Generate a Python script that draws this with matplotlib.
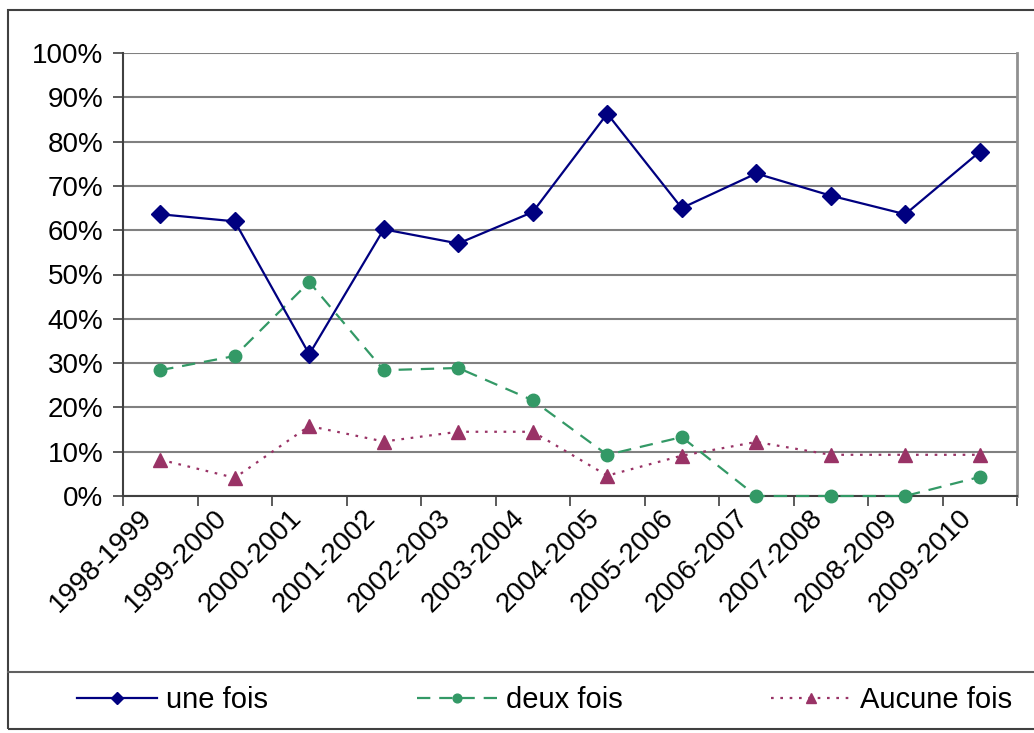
import matplotlib
matplotlib.use('Agg')
import matplotlib.pyplot as plt
from matplotlib.ticker import FixedLocator, PercentFormatter
from matplotlib.transforms import ScaledTranslation
from matplotlib.patches import Rectangle
from matplotlib.lines import Line2D

plt.rcParams['font.family'] = ['Liberation Sans', 'DejaVu Sans']

# donnees
saisons = ['1998-1999', '1999-2000', '2000-2001', '2001-2002', '2002-2003', '2003-2004',
           '2004-2005', '2005-2006', '2006-2007', '2007-2008', '2008-2009', '2009-2010']
une_fois = [63.6, 62.0, 32.0, 60.2, 57.0, 64.1, 86.3, 65.0, 72.8, 67.8, 63.6, 77.7]
deux_fois = [28.4, 31.6, 48.3, 28.4, 28.9, 21.6, 9.3, 13.3, 0.0, 0.0, 0.0, 4.3]
aucune_fois = [8.2, 4.1, 15.8, 12.3, 14.5, 14.5, 4.6, 9.1, 12.2, 9.3, 9.3, 9.3]

W, H = 1034, 733
fig = plt.figure(figsize=(W / 100, H / 100), dpi=100)

# zone de trace en pixels
left, right, top, bottom = 123, 1017, 53, 496
ax = fig.add_axes([left / W, 1 - bottom / H, (right - left) / W, (bottom - top) / H])

x = list(range(len(saisons)))
ax.plot(x, une_fois, color='#000080', lw=1.6, marker='D', ms=9, label='une fois', zorder=4)
ax.plot(x, deux_fois, color='#339966', lw=1.6, ls=(0, (6, 4)), marker='o', ms=9,
        label='deux fois', zorder=3, clip_on=False)
ax.plot(x, aucune_fois, color='#993366', lw=1.6, ls=(0, (1.2, 3)), marker='^', ms=10,
        label='Aucune fois', zorder=3)

ax.set_xlim(-0.5, len(saisons) - 0.5)
ax.set_ylim(0, 100)
ax.yaxis.set_major_locator(FixedLocator(range(0, 101, 10)))
ax.yaxis.set_major_formatter(PercentFormatter(decimals=0))
ax.yaxis.grid(True, color='#808080', lw=1.5)
ax.set_axisbelow(True)

ax.set_xticks(x)
ax.set_xticklabels(saisons, rotation=45, ha='right', va='center', rotation_mode='anchor')
ax.xaxis.set_minor_locator(FixedLocator([i - 0.5 for i in range(len(saisons) + 1)]))
ax.tick_params(axis='x', which='major', length=0, pad=13, labelsize=20)
ax.tick_params(axis='x', which='minor', length=7, width=1.2, color='#404040')
ax.tick_params(axis='y', length=7, width=1.2, color='#404040', labelsize=20, pad=7)
for lab in ax.get_xticklabels():
    lab.set_transform(lab.get_transform() + ScaledTranslation(-0.12, 0, fig.dpi_scale_trans))

for s in ['left', 'bottom']:
    ax.spines[s].set_color('#404040')
    ax.spines[s].set_linewidth(1.5)
ax.spines['top'].set_visible(False)
ax.spines['right'].set_color('#909090')
ax.spines['right'].set_linewidth(2)

# cadres autour du graphique et de la legende
fig.patches.append(Rectangle((8 / W, 1 - 729 / H), (W + 10) / W, (729 - 10) / H,
                             transform=fig.transFigure, fill=False, ec='#404040', lw=1.5))
fig.lines.append(Line2D([8 / W, 1.01], [1 - 672 / H] * 2, transform=fig.transFigure,
                        color='#606060', lw=1.5))

handles, labels = ax.get_legend_handles_labels()
fig.legend(handles, labels, loc='center left', bbox_to_anchor=(77 / W, 1 - 700 / H),
           ncol=3, frameon=False, fontsize=21, handlelength=2.75, handletextpad=0.3,
           columnspacing=5.1, markerscale=0.7, borderaxespad=0, borderpad=0)

fig.savefig('out.png', dpi=100)
